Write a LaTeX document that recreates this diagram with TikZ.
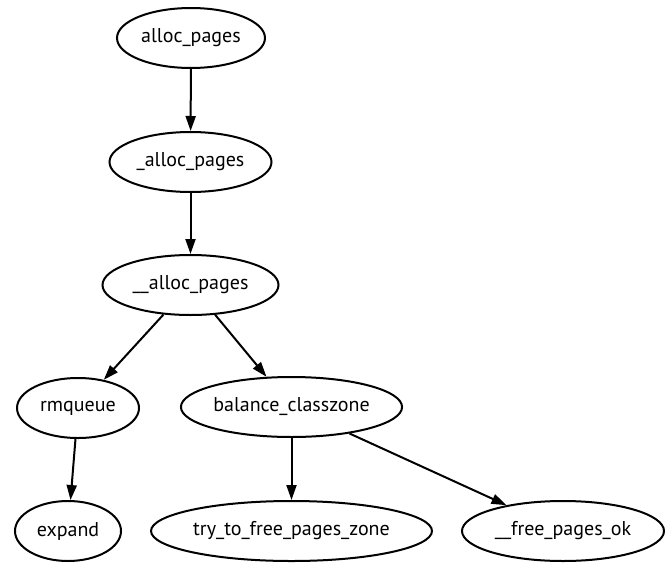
\documentclass[tikz,border=0pt]{standalone}
\usepackage{fontspec}
\setmainfont{PT Sans}
\usetikzlibrary{shapes.geometric,arrows.meta}
\begin{document}
\begin{tikzpicture}[x=1pt,y=-1pt,
  fn/.style={draw, ellipse, line width=2pt, inner sep=0pt,
    font=\fontsize{20}{24}\selectfont, minimum height=60pt},
  call/.style={line width=2pt, -{Triangle[length=15pt,width=10pt]}}]
\useasboundingbox (0,0) rectangle (666,562);
% call graph of the page allocator
\node[fn, minimum width=148pt] (ap)   at (191,38)  {alloc\_pages};
\node[fn, minimum width=162pt] (uap)  at (190.5,162) {\_alloc\_pages};
\node[fn, minimum width=176pt] (uuap) at (190.5,285) {\_\_alloc\_pages};
\node[fn, minimum width=122pt] (rmq)  at (78,408)  {rmqueue};
\node[fn, minimum width=218pt] (bal)  at (291.5,407) {balance\_classzone};
\node[fn, minimum width=106pt] (exp)  at (68,531)  {expand};
\node[fn, minimum width=281pt] (try)  at (291.5,531) {try\_to\_free\_pages\_zone};
\node[fn, minimum width=202pt] (fpo)  at (563,531) {\_\_free\_pages\_ok};

\draw[call] (ap) -- (uap);
\draw[call] (uap) -- (uuap);
\draw[call] (uuap) -- (rmq);
\draw[call] (uuap) -- (bal);
\draw[call] (rmq) -- (exp);
\draw[call] (bal) -- (try);
\draw[call] (bal) -- (fpo);
\end{tikzpicture}
\end{document}
